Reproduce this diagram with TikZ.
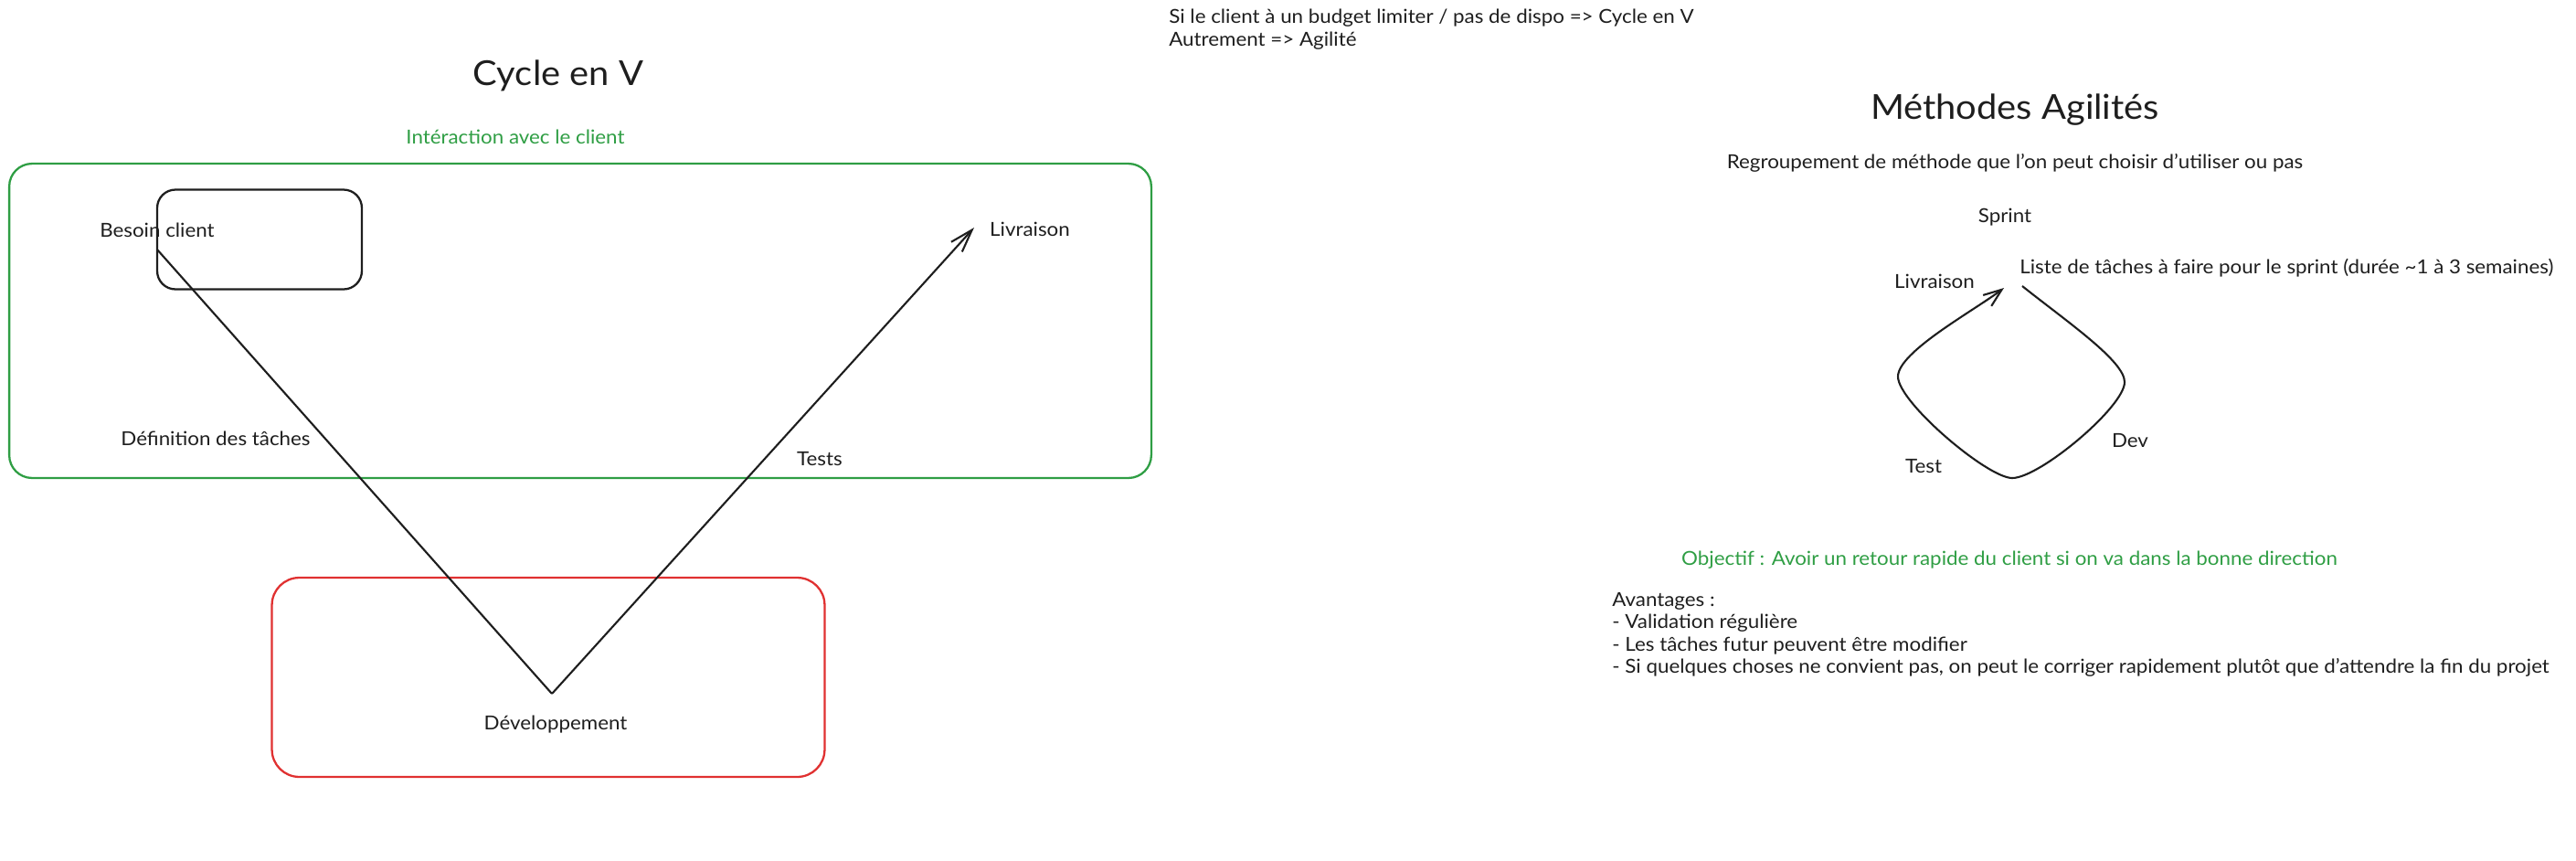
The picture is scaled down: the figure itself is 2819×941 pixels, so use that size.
\documentclass[tikz,border=0pt]{standalone}
\usepackage{fontspec}
\setmainfont{Lato}[FakeStretch=1.06]
\usetikzlibrary{arrows.meta,positioning}

\definecolor{exgreen}{HTML}{2F9E44}
\definecolor{exred}{HTML}{E03131}
\definecolor{exblack}{HTML}{1E1E1E}

\begin{document}
\begin{tikzpicture}[x=0.02cm,y=-0.02cm,
  txt/.style={font=\fontsize{12}{13.9}\selectfont, text=exblack, inner sep=0pt},
  titletxt/.style={font=\fontsize{21.4}{25}\selectfont, text=exblack, inner sep=0pt},
  gtxt/.style={txt, text=exgreen},
  zone/.style={draw, rounded corners=0.5cm, line width=1.3pt, inner sep=0pt, outer sep=0pt},
  vline/.style={draw=exblack, line width=1.2pt}]
\useasboundingbox (0,0) rectangle (2819,941);

% Cycle en V
\node[titletxt] (cycletitle) at (611,83) {Cycle en V};
\node[gtxt] (interaction) at (564,150) {Intéraction avec le client};
\node[zone, draw=exgreen, minimum width=25cm, minimum height=6.88cm] (clientzone) at (635,351) {};
\node[zone, draw=exblack, rounded corners=0.4cm, minimum width=4.48cm, minimum height=2.18cm] (besoinbox) at (284,262) {};
\node[zone, draw=exred, rounded corners=0.6cm, minimum width=12.1cm, minimum height=4.36cm] (devzone) at (600,741) {};

\node[txt] (besoin) at (172,252) {Besoin client};
\node[txt] (livraisonv) at (1127,251) {Livraison};
\node[txt] (definition) at (236,480) {Définition des tâches};
\node[txt] (tests) at (897,502) {Tests};
\node[txt] (dev) at (608,793) {Développement};

\coordinate (vstart) at (172,273);
\coordinate (vbottom) at (604,759);
\coordinate (vend) at (1066,249);
\draw[vline] (vstart) -- (vbottom);
\draw[vline, -{Straight Barb[length=0.5cm,width=0.32cm]}] (vbottom) -- (vend);

% Choix
\node[txt, anchor=north west, align=left] (choix) at (1279,10)
  {Si le client à un budget limiter / pas de dispo => Cycle en V\\Autrement => Agilité};

% Methodes agiles
\node[titletxt] (agiletitle) at (2205,120) {Méthodes Agilités};
\node[txt] (regroupement) at (2205,178) {Regroupement de méthode que l'on peut choisir d'utiliser ou pas};
\node[txt] (sprint) at (2194,238) {Sprint};
\node[txt, anchor=west] (liste) at (2210,293) {Liste de tâches à faire pour le sprint (durée \textasciitilde1 à 3 semaines)};
\node[txt] (livraisona) at (2117,308) {Livraison};
\node[txt] (devloop) at (2331,482) {Dev};
\node[txt] (testloop) at (2105,510) {Test};

\coordinate (loopstart) at (2213,313);
\coordinate (loopright) at (2325,418);
\coordinate (loopbottom) at (2202,523);
\coordinate (loopleft) at (2077,412);
\coordinate (loopend) at (2193,315);
\draw[vline, -{Straight Barb[length=0.4cm,width=0.3cm]}] (loopstart)
  .. controls (2262,352) and (2325,395) .. (loopright)
  .. controls (2325,445) and (2232,523) .. (loopbottom)
  .. controls (2175,523) and (2077,440) .. (loopleft)
  .. controls (2077,385) and (2160,340) .. (loopend);

\node[gtxt] (objectif) at (2199,613) {Objectif : Avoir un retour rapide du client si on va dans la bonne direction};
\node[txt, anchor=north west, align=left] (avantages) at (1764,648)
  {Avantages :\\- Validation régulière\\- Les tâches futur peuvent être modifier\\- Si quelques choses ne convient pas, on peut le corriger rapidement plutôt que d'attendre la fin du projet};
\end{tikzpicture}
\end{document}
